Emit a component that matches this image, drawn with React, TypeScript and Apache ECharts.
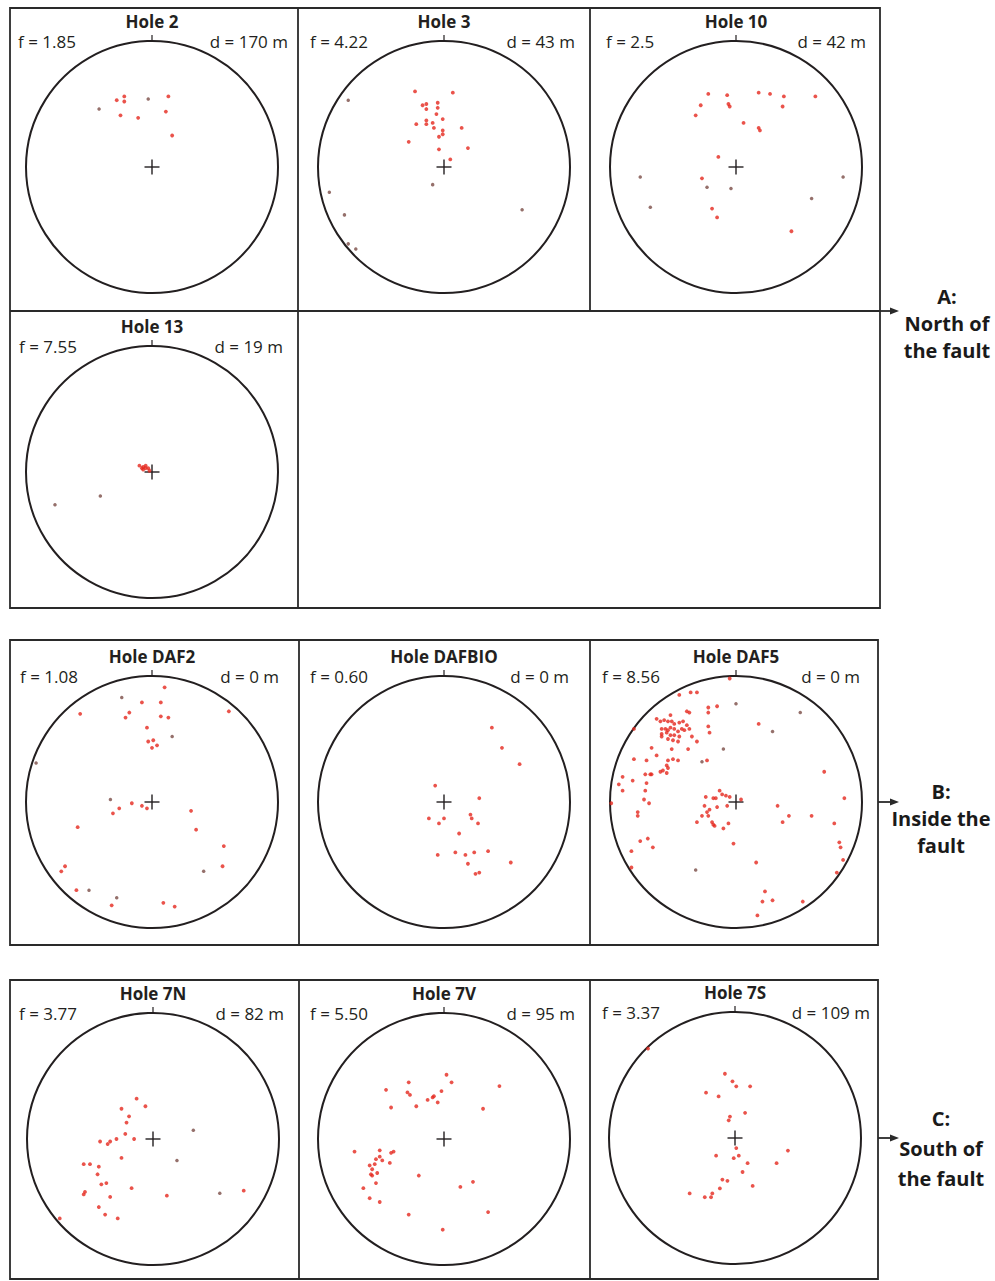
import React, { useEffect, useRef } from "react";
import * as echarts from "echarts";

// Stereonet panels: title, fracture factor f and distance d to the fault
const holeNames = ["Hole 2", "Hole 3", "Hole 10", "Hole 13", "Hole DAF2", "Hole DAFBIO", "Hole DAF5", "Hole 7N", "Hole 7V", "Hole 7S"];
const fValues = ["1.85", "4.22", "2.5", "7.55", "1.08", "0.60", "8.56", "3.77", "5.50", "3.37"];
const dValues = ["170", "43", "42", "19", "0", "0", "0", "82", "95", "109"];

const zoneLetters = ["A:", "B:", "C:"];
const zoneNames = [["North of", "the fault"], ["Inside the", "fault"], ["South of", "the fault"]];

// Projected poles, x = east, y = north, in units of the net radius
const hole2Red = [[-0.28, 0.53], [-0.22, 0.56], [-0.22, 0.52], [-0.25, 0.41], [-0.11, 0.39], [0.13, 0.56], [0.11, 0.44], [0.16, 0.25]];
const hole2Dark = [[-0.42, 0.46], [-0.03, 0.54]];

const hole3Red = [[-0.23, 0.6], [0.07, 0.59], [-0.17, 0.49], [-0.14, 0.5], [-0.14, 0.46], [-0.05, 0.51], [-0.05, 0.47], [-0.06, 0.42], [-0.01, 0.38], [-0.22, 0.34], [-0.14, 0.37], [-0.14, 0.34], [-0.09, 0.35], [-0.08, 0.31], [-0.01, 0.29], [-0.01, 0.26], [-0.04, 0.24], [0.14, 0.31], [-0.28, 0.2], [-0.04, 0.14], [0.19, 0.15], [0.05, 0.06]];
const hole3Dark = [[-0.76, 0.53], [-0.09, -0.14], [-0.91, -0.2], [-0.79, -0.38], [0.62, -0.34], [-0.76, -0.61], [-0.7, -0.65]];

const hole10Red = [[-0.22, 0.58], [-0.07, 0.57], [0.18, 0.59], [0.27, 0.58], [0.38, 0.56], [0.63, 0.56], [-0.28, 0.49], [-0.06, 0.5], [-0.05, 0.48], [0.37, 0.48], [-0.32, 0.41], [0.06, 0.35], [0.18, 0.31], [0.19, 0.29], [-0.14, 0.08], [-0.27, -0.09], [-0.19, -0.33], [-0.15, -0.4], [0.44, -0.51]];
const hole10Dark = [[-0.76, -0.08], [-0.68, -0.32], [-0.23, -0.16], [-0.04, -0.17], [0.85, -0.08], [0.6, -0.25]];

const hole13Red = [[-0.1, 0.05], [-0.07, 0.04], [-0.05, 0.03], [-0.07, 0.02], [-0.03, 0.03], [-0.08, 0.03], [-0.05, 0.05], [-0.02, 0.01]];
const hole13Dark = [[-0.77, -0.26], [-0.41, -0.19]];

const daf2Red = [[0.1, 0.91], [-0.08, 0.79], [0.07, 0.79], [-0.18, 0.71], [-0.21, 0.67], [-0.57, 0.7], [0.07, 0.68], [0.13, 0.67], [0.61, 0.72], [-0.04, 0.59], [-0.03, 0.48], [0.01, 0.49], [0.0, 0.43], [0.04, 0.45], [-0.16, -0.01], [-0.08, -0.03], [-0.04, -0.05], [-0.26, -0.05], [-0.31, -0.09], [0.31, -0.07], [-0.59, -0.2], [0.35, -0.22], [0.57, -0.35], [0.56, -0.51], [-0.69, -0.51], [-0.72, -0.55], [-0.6, -0.7], [-0.32, -0.82], [0.09, -0.8], [0.18, -0.83]];
const daf2Dark = [[-0.24, 0.83], [0.16, 0.52], [-0.33, 0.02], [-0.5, -0.7], [-0.28, -0.76], [0.41, -0.55], [-0.92, 0.31]];

const dafbioRed = [[0.38, 0.59], [0.46, 0.43], [0.6, 0.3], [-0.07, 0.13], [0.28, 0.03], [-0.12, -0.13], [0.0, -0.13], [-0.04, -0.17], [0.21, -0.1], [0.22, -0.13], [0.27, -0.17], [0.12, -0.25], [-0.05, -0.42], [0.09, -0.4], [0.17, -0.42], [0.24, -0.4], [0.35, -0.39], [0.19, -0.49], [0.53, -0.48], [0.25, -0.57], [0.28, -0.56]];
const dafbioDark: number[][] = [];

const daf5Red = [
  [-0.05, 0.98], [-0.36, 0.87], [-0.31, 0.87], [-0.45, 0.85], [-0.15, 0.76], [-0.22, 0.75], [-0.22, 0.71], [-0.39, 0.72], [-0.37, 0.71], [0.18, 0.62],
  [-0.52, 0.69], [-0.63, 0.66], [-0.6, 0.64], [-0.57, 0.65], [-0.54, 0.64], [-0.51, 0.64], [-0.49, 0.62], [-0.45, 0.63], [-0.42, 0.64], [-0.39, 0.61],
  [-0.37, 0.58], [-0.41, 0.57], [-0.43, 0.58], [-0.46, 0.56], [-0.49, 0.58], [-0.52, 0.59], [-0.54, 0.57], [-0.56, 0.58], [-0.59, 0.58], [-0.59, 0.54],
  [-0.55, 0.55], [-0.52, 0.53], [-0.49, 0.53], [-0.45, 0.52], [-0.46, 0.48], [-0.5, 0.49], [-0.54, 0.5], [-0.59, 0.52], [-0.35, 0.52], [-0.31, 0.48],
  [-0.38, 0.42], [-0.51, 0.42], [-0.67, 0.43], [-0.63, 0.37], [-0.22, 0.6], [-0.21, 0.55], [-0.23, 0.33], [-0.81, 0.34], [-0.71, 0.33], [-0.54, 0.33],
  [-0.5, 0.34], [-0.46, 0.33], [-0.55, 0.29], [-0.54, 0.27], [-0.58, 0.25], [-0.55, 0.23], [-0.6, 0.24], [-0.68, 0.22], [-0.72, 0.22], [-0.67, 0.22],
  [-0.9, 0.2], [-0.82, 0.17], [-0.71, 0.15], [-0.93, 0.14], [-0.9, 0.09], [-0.72, 0.09], [-0.73, 0.02], [-0.69, -0.01], [-0.78, -0.08], [-0.78, -0.11],
  [-0.99, -0.01], [-0.81, 0.58],
  [-0.13, 0.09], [-0.11, 0.06], [-0.08, 0.05], [-0.05, 0.04], [-0.24, 0.04], [-0.18, 0.03], [-0.16, 0.03], [0.04, 0.02], [-0.15, -0.04], [-0.21, -0.06],
  [-0.25, -0.03], [-0.07, -0.03], [-0.23, -0.08], [-0.22, -0.11], [-0.27, -0.11], [-0.31, -0.16], [-0.19, -0.16], [-0.18, -0.18], [-0.17, -0.19], [-0.1, -0.21],
  [-0.06, -0.17], [-0.02, -0.33],
  [0.7, 0.24], [0.86, 0.03], [0.33, -0.03], [0.42, -0.11], [0.37, -0.16], [0.6, -0.11], [0.78, -0.17], [0.82, -0.32], [0.83, -0.36], [0.85, -0.46],
  [0.8, -0.56], [0.16, -0.48], [0.23, -0.71], [0.21, -0.79], [0.29, -0.78], [0.53, -0.79], [0.17, -0.9],
  [-0.7, -0.29], [-0.76, -0.31], [-0.66, -0.36], [-0.83, -0.39], [-0.83, -0.52],
];
const daf5Dark = [[0.0, 0.78], [0.51, 0.71], [0.29, 0.56], [-0.1, 0.42], [-0.27, 0.32], [-0.32, -0.54]];

const hole7NRed = [[-0.13, 0.32], [-0.06, 0.26], [-0.25, 0.24], [-0.19, 0.18], [-0.21, 0.13], [-0.22, 0.04], [-0.15, 0.0], [-0.29, 0.0], [-0.34, -0.02], [-0.36, -0.04], [-0.42, -0.02], [-0.25, -0.15], [-0.55, -0.2], [-0.5, -0.2], [-0.43, -0.22], [-0.44, -0.28], [-0.41, -0.36], [-0.37, -0.35], [-0.54, -0.42], [-0.55, -0.44], [-0.34, -0.46], [-0.17, -0.39], [0.11, -0.45], [-0.43, -0.54], [-0.38, -0.6], [-0.28, -0.63], [-0.74, -0.63], [0.72, -0.41]];
const hole7NDark = [[0.32, 0.07], [0.19, -0.17], [0.53, -0.43]];

const hole7VRed = [[0.02, 0.51], [-0.28, 0.45], [0.06, 0.45], [0.44, 0.42], [-0.46, 0.39], [-0.29, 0.37], [-0.27, 0.35], [-0.02, 0.38], [-0.08, 0.34], [-0.09, 0.33], [-0.13, 0.31], [-0.05, 0.29], [-0.22, 0.26], [-0.42, 0.25], [0.31, 0.24], [-0.71, -0.1], [-0.51, -0.09], [-0.4, -0.1], [-0.42, -0.11], [-0.51, -0.14], [-0.49, -0.17], [-0.54, -0.16], [-0.55, -0.2], [-0.59, -0.21], [-0.43, -0.19], [-0.57, -0.24], [-0.58, -0.28], [-0.57, -0.29], [-0.53, -0.27], [-0.54, -0.35], [-0.64, -0.39], [-0.59, -0.47], [-0.51, -0.5], [-0.2, -0.29], [0.13, -0.38], [0.23, -0.34], [-0.28, -0.6], [0.35, -0.58], [-0.01, -0.72]];
const hole7VDark: number[][] = [];

const hole7SRed = [[-0.69, 0.71], [-0.08, 0.51], [-0.02, 0.45], [0.01, 0.41], [0.12, 0.41], [-0.23, 0.36], [-0.13, 0.33], [0.08, 0.2], [-0.04, 0.17], [-0.05, 0.14], [0.01, -0.08], [0.03, -0.14], [-0.01, -0.16], [-0.15, -0.14], [0.42, -0.1], [0.1, -0.2], [0.33, -0.2], [0.06, -0.27], [-0.1, -0.33], [-0.06, -0.34], [0.14, -0.38], [-0.12, -0.4], [-0.18, -0.44], [-0.36, -0.44], [-0.19, -0.47], [-0.24, -0.47]];
const hole7SDark: number[][] = [];

const redSets = [hole2Red, hole3Red, hole10Red, hole13Red, daf2Red, dafbioRed, daf5Red, hole7NRed, hole7VRed, hole7SRed];
const darkSets = [hole2Dark, hole3Dark, hole10Dark, hole13Dark, daf2Dark, dafbioDark, daf5Dark, hole7NDark, hole7VDark, hole7SDark];

// Panel geometry (pixels): net centre, left edge of the f label, right edge of the d label
const R = 126;
const panels = [
  { cx: 152, cy: 167, fx: 18, dx: 288 },
  { cx: 444, cy: 167, fx: 310, dx: 575 },
  { cx: 736, cy: 167, fx: 606, dx: 866 },
  { cx: 152, cy: 472, fx: 19, dx: 283 },
  { cx: 152, cy: 802, fx: 20, dx: 279 },
  { cx: 444, cy: 802, fx: 310, dx: 569 },
  { cx: 736, cy: 802, fx: 602, dx: 860 },
  { cx: 153, cy: 1139, fx: 19, dx: 284 },
  { cx: 444, cy: 1139, fx: 310, dx: 575 },
  { cx: 735, cy: 1138, fx: 602, dx: 870 },
];

const FONT = '"Open Sans", "DejaVu Sans", sans-serif';
const INK = "#231f20";
const FRAME = "#2a2a2a";

function buildOption() {
  const grid: any[] = [];
  const xAxis: any[] = [];
  const yAxis: any[] = [];
  const series: any[] = [];
  const graphic: any[] = [];

  panels.forEach((p, i) => {
    grid.push({ left: p.cx - R, top: p.cy - R, width: 2 * R, height: 2 * R });
    xAxis.push({ type: "value", gridIndex: i, min: -1, max: 1, show: false });
    yAxis.push({ type: "value", gridIndex: i, min: -1, max: 1, show: false });
    series.push({
      type: "scatter", xAxisIndex: i, yAxisIndex: i, data: darkSets[i],
      symbolSize: 3.5, itemStyle: { color: "#7a4c46" }, silent: true,
    });
    series.push({
      type: "scatter", xAxisIndex: i, yAxisIndex: i, data: redSets[i],
      symbolSize: 3.8, itemStyle: { color: "#e5281e" }, silent: true,
    });

    // net outline, north tick and centre cross
    graphic.push({ type: "circle", shape: { cx: p.cx, cy: p.cy, r: R }, style: { fill: "none", stroke: INK, lineWidth: 2 }, silent: true });
    graphic.push({ type: "line", shape: { x1: p.cx, y1: p.cy - R - 6, x2: p.cx, y2: p.cy - R }, style: { stroke: INK, lineWidth: 1.2 }, silent: true });
    graphic.push({ type: "line", shape: { x1: p.cx - 7.5, y1: p.cy, x2: p.cx + 7.5, y2: p.cy }, style: { stroke: INK, lineWidth: 1.4 }, silent: true });
    graphic.push({ type: "line", shape: { x1: p.cx, y1: p.cy - 7.5, x2: p.cx, y2: p.cy + 7.5 }, style: { stroke: INK, lineWidth: 1.4 }, silent: true });

    graphic.push({
      type: "text", x: p.cx, y: p.cy - 146, silent: true,
      style: { text: holeNames[i], fill: INK, fontSize: 17, fontWeight: "bold", fontFamily: FONT, align: "center", verticalAlign: "middle" },
    });
    graphic.push({
      type: "text", x: p.fx, y: p.cy - 126, silent: true,
      style: { text: `f = ${fValues[i]}`, fill: INK, fontSize: 17, fontFamily: FONT, align: "left", verticalAlign: "middle" },
    });
    graphic.push({
      type: "text", x: p.dx, y: p.cy - 126, silent: true,
      style: { text: `d = ${dValues[i]} m`, fill: INK, fontSize: 17, fontFamily: FONT, align: "right", verticalAlign: "middle" },
    });
  });

  const frameLine = (x1: number, y1: number, x2: number, y2: number) => ({
    type: "line", shape: { x1, y1, x2, y2 }, style: { stroke: FRAME, lineWidth: 1.8 }, silent: true,
  });
  const frameRect = (x: number, y: number, w: number, h: number) => ({
    type: "rect", shape: { x, y, width: w, height: h }, style: { fill: "none", stroke: FRAME, lineWidth: 1.8 }, silent: true,
  });
  const arrow = (x0: number, y: number) => [
    frameLine(x0, y, 893, y),
    { type: "polygon", shape: { points: [[890, y - 3.5], [899, y], [890, y + 3.5]] }, style: { fill: FRAME }, silent: true },
  ];

  // group A: north of the fault
  graphic.push(frameRect(10, 8, 870, 600));
  graphic.push(frameLine(10, 311, 880, 311));
  graphic.push(frameLine(298, 8, 298, 608));
  graphic.push(frameLine(590, 8, 590, 311));
  graphic.push(...arrow(880, 311));
  // group B: inside the fault
  graphic.push(frameRect(10, 640, 868, 305));
  graphic.push(frameLine(299, 640, 299, 945));
  graphic.push(frameLine(590, 640, 590, 945));
  graphic.push(...arrow(878, 802));
  // group C: south of the fault
  graphic.push(frameRect(10, 980, 868, 299));
  graphic.push(frameLine(299, 980, 299, 1279));
  graphic.push(frameLine(590, 980, 590, 1279));
  graphic.push(...arrow(878, 1138));

  const zonePos = [
    { x: 947, y: 323, lh: 27 },
    { x: 941, y: 818, lh: 27 },
    { x: 941, y: 1148, lh: 30 },
  ];
  zonePos.forEach((z, k) => {
    graphic.push({
      type: "text", x: z.x, y: z.y, silent: true,
      style: {
        text: [zoneLetters[k], ...zoneNames[k]].join("\n"),
        fill: "#1a1a1a", fontSize: 20, fontWeight: "bold", fontFamily: FONT,
        align: "center", verticalAlign: "middle", lineHeight: z.lh,
      },
    });
  });

  return {
    animation: false,
    backgroundColor: "#ffffff",
    grid, xAxis, yAxis, series, graphic,
  };
}

export default function App() {
  const ref = useRef<HTMLDivElement>(null);
  useEffect(() => {
    if (!ref.current) return;
    const chart = echarts.init(ref.current, undefined, { renderer: "svg" });
    chart.setOption(buildOption() as any);
    return () => chart.dispose();
  }, []);
  return (
    <div
      ref={ref}
      style={{ position: "absolute", left: 0, top: 0, width: 995, height: 1281, background: "#fff" }}
    />
  );
}
